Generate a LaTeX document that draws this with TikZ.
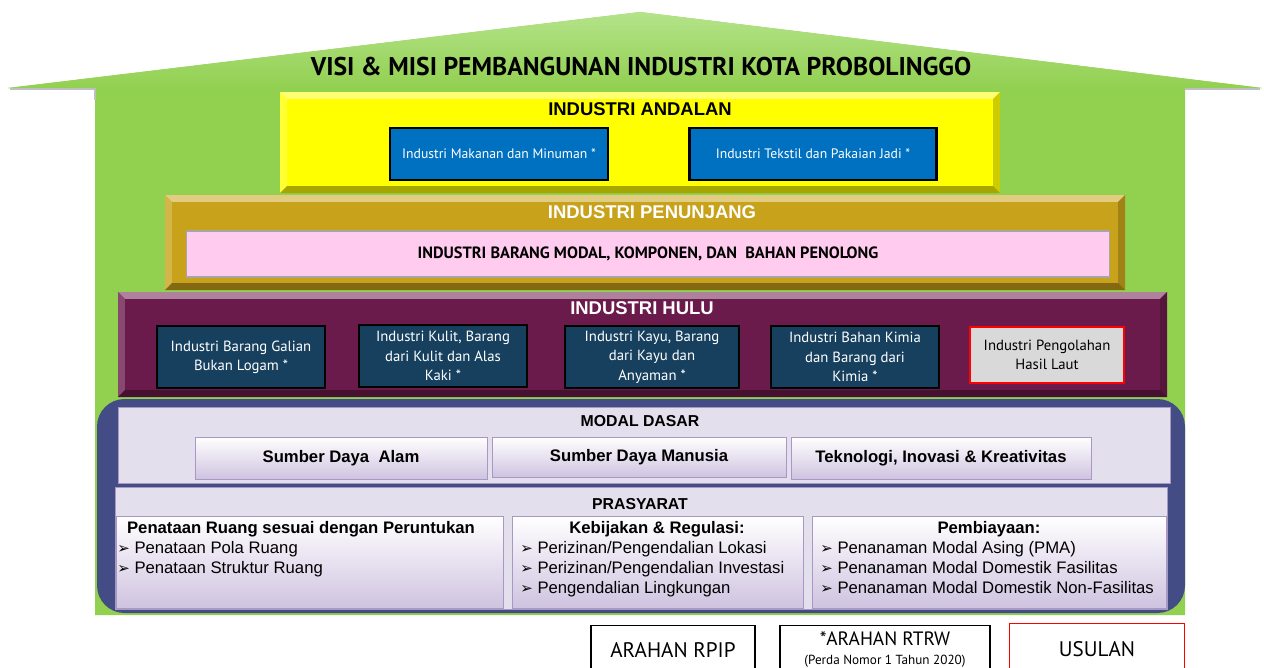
\documentclass[tikz,border=0pt]{standalone}
\usepackage{fontspec}
\setmainfont{PT Sans}
\newfontfamily\arialfont{Liberation Sans}
\newfontfamily\symfont{DejaVu Sans}
\usetikzlibrary{positioning}

\definecolor{housegreen}{HTML}{92D050}
\definecolor{roofgreen}{HTML}{B4E38A}
\definecolor{andalanyellow}{HTML}{FFFF00}
\definecolor{penunjanggold}{HTML}{C9A21B}
\definecolor{hulumaroon}{HTML}{6B1A4C}
\definecolor{boxblue}{HTML}{0070C0}
\definecolor{boxteal}{HTML}{17405F}
\definecolor{pinkbar}{HTML}{FFCCF0}
\definecolor{basisblue}{HTML}{434C85}
\definecolor{lavender}{HTML}{E4DFEC}
\definecolor{lavdark}{HTML}{CFC3E0}
\definecolor{lavline}{HTML}{A898C4}

\def\pxu{0.02cm}
\newcommand{\arr}{{\symfont\fontsize{8.5}{8.5}\selectfont\char"27A2}\ }

% block with a bevelled rim: x1,y1,x2,y2,colour
\newcommand{\bevelbox}[5]{%
  \fill[#5] (#1,#2) rectangle (#3,#4);
  \fill[#5!55!white] (#1,#2) -- (#3,#2) -- (#3-7,#2+7) -- (#1+7,#2+7) -- cycle;
  \fill[#5!80!white] (#1,#2) -- (#1+7,#2+7) -- (#1+7,#4-7) -- (#1,#4) -- cycle;
  \fill[#5!80!black] (#3,#2) -- (#3,#4) -- (#3-7,#4-7) -- (#3-7,#2+7) -- cycle;
  \fill[#5!65!black] (#1,#4) -- (#3,#4) -- (#3-7,#4-7) -- (#1+7,#4-7) -- cycle;
  \fill[#5] (#1+7,#2+7) rectangle (#3-7,#4-7);
}

\begin{document}
\begin{tikzpicture}[x=0.02cm,y=-0.02cm]
\tikzstyle{boxa}=[rectangle, draw=black, line width=1.6pt, fill=boxblue, text=white, font=\fontsize{7.8}{10}\selectfont, minimum height=52*\pxu]
\tikzstyle{boxh}=[rectangle, draw=black, line width=1.6pt, fill=boxteal, text=white, align=center, font=\fontsize{8.4}{11}\selectfont, minimum width=168*\pxu, minimum height=62*\pxu, inner sep=1pt]
\tikzstyle{boxu}=[boxh, draw=red, fill=gray!30, text=black, minimum width=154*\pxu, minimum height=56*\pxu]
\tikzstyle{lvltitle}=[font=\arialfont\bfseries\fontsize{10.5}{12}\selectfont]
\tikzstyle{btn}=[rectangle, draw=lavline, top color=white, bottom color=lavdark, font=\arialfont\bfseries\fontsize{9.5}{11}\selectfont, minimum height=42*\pxu]
\tikzstyle{subpanel}=[draw=lavline, top color=white, bottom color=lavdark]
\tikzstyle{panel}=[draw=lavline, fill=lavender]
\tikzstyle{listtxt}=[anchor=north west, align=left, inner sep=0pt, font=\arialfont\fontsize{9.5}{11.4}\selectfont]
\tikzstyle{listhead}=[font=\arialfont\bfseries\fontsize{9.5}{11}\selectfont]
\tikzstyle{legend}=[rectangle, draw=black, line width=0.8pt, minimum height=48*\pxu, anchor=north, align=center]

\useasboundingbox (0,0) rectangle (1264,667);

% house and roof
\fill[housegreen] (8,88) -- (640,12) -- (1262,88) -- (1185,88) -- (1185,615) -- (95,615) -- (95,88) -- cycle;
\shade[top color=roofgreen, bottom color=housegreen] (8,88) -- (640,12) -- (1262,88) -- cycle;
\draw[gray!50, line width=0.8pt] (10,89) -- (95,89) -- (95,100);
\draw[gray!50, line width=0.8pt] (1260,89) -- (1185,89);
\node (visi) at (641,67) {\bfseries\fontsize{14.6}{16}\selectfont VISI \& MISI PEMBANGUNAN INDUSTRI KOTA PROBOLINGGO};

% industri andalan
\bevelbox{280}{92}{1000}{193}{andalanyellow}
\node (andalan) [lvltitle] at (640,109) {INDUSTRI ANDALAN};
\node (makanan) [boxa, minimum width=218*\pxu] at (499,154) {Industri Makanan dan Minuman *};
\node (tekstil) [boxa, minimum width=247*\pxu] at (813,154) {Industri Tekstil dan Pakaian Jadi *};

% industri penunjang
\bevelbox{165}{195}{1125}{290}{penunjanggold}
\node (penunjang) [lvltitle, text=white] at (652,212) {INDUSTRI PENUNJANG};
\node (modal) [rectangle, draw=gray!70, line width=1pt, fill=pinkbar, minimum width=923*\pxu, minimum height=46*\pxu, font=\bfseries\fontsize{9.3}{11}\selectfont] at (648,254) {INDUSTRI BARANG MODAL, KOMPONEN, DAN \ BAHAN PENOLONG};

% industri hulu
\bevelbox{118}{292}{1167}{397}{hulumaroon}
\node (hulu) [lvltitle, text=white] at (642,308) {INDUSTRI HULU};
\node (galian) [boxh] at (241,357) {Industri Barang Galian\\Bukan Logam *};
\node (kulit) [boxh] at (443,356) {Industri Kulit, Barang\\dari Kulit dan Alas\\Kaki *};
\node (kayu) [boxh, minimum width=174*\pxu] at (652,357) {Industri Kayu, Barang\\dari Kayu dan\\Anyaman *};
\node (kimia) [boxh] at (855,357) {Industri Bahan Kimia\\dan Barang dari\\Kimia *};
\node (laut) [boxu] at (1047,355) {Industri Pengolahan\\Hasil Laut};

% modal dasar and prasyarat
\fill[basisblue, rounded corners=0.55cm] (97,399) rectangle (1185,613);
\draw[panel] (118,407) rectangle (1170,483);
\node (dasar) [lvltitle, font=\arialfont\bfseries\fontsize{9}{11}\selectfont] at (640,421) {MODAL DASAR};
\node (alam) [btn, minimum width=292*\pxu] at (341,458) {Sumber Daya \ Alam};
\node (manusia) [btn, minimum width=294*\pxu, minimum height=40*\pxu] at (639,457) {Sumber Daya Manusia};
\node (tekno) [btn, minimum width=300*\pxu] at (941,458) {Teknologi, Inovasi \& Kreativitas};

\draw[panel] (115,487) rectangle (1167,609);
\node (prasyarat) [lvltitle, font=\arialfont\bfseries\fontsize{9}{11}\selectfont] at (640,504) {PRASYARAT};
\shade[subpanel] (116,516) rectangle (503,608);
\draw[lavline] (116,516) rectangle (503,608);
\shade[subpanel] (512,516) rectangle (803,608);
\draw[lavline] (512,516) rectangle (803,608);
\shade[subpanel] (812,516) rectangle (1166,608);
\draw[lavline] (812,516) rectangle (1166,608);

\node (ruanghead) [listhead] at (301,529) {Penataan Ruang sesuai dengan Peruntukan};
\node (ruanglist) [listtxt] at (117,541) {\arr Penataan Pola Ruang\\\arr Penataan Struktur Ruang};
\node (regulasihead) [listhead] at (657,529) {Kebijakan \& Regulasi:};
\node (regulasilist) [listtxt] at (520,541) {\arr Perizinan/Pengendalian Lokasi\\\arr Perizinan/Pengendalian Investasi\\\arr Pengendalian Lingkungan};
\node (biayahead) [listhead] at (989,529) {Pembiayaan:};
\node (biayalist) [listtxt] at (820,541) {\arr Penanaman Modal Asing (PMA)\\\arr Penanaman Modal Domestik Fasilitas\\\arr Penanaman Modal Domestik Non-Fasilitas};

% legend
\node (rpip) [legend, minimum width=164*\pxu, font=\fontsize{12}{14}\selectfont] at (673,625) {ARAHAN RPIP};
\node (rtrw) [legend, minimum width=210*\pxu, inner sep=1pt] at (885,625) {{\fontsize{11}{13}\selectfont *ARAHAN RTRW}\\[-1pt]{\fontsize{7.5}{9}\selectfont (Perda Nomor 1 Tahun 2020)}};
\node (usulan) [legend, draw=red, minimum width=175*\pxu, minimum height=50*\pxu, font=\fontsize{12}{14}\selectfont] at (1097,623) {USULAN};
\end{tikzpicture}
\end{document}
